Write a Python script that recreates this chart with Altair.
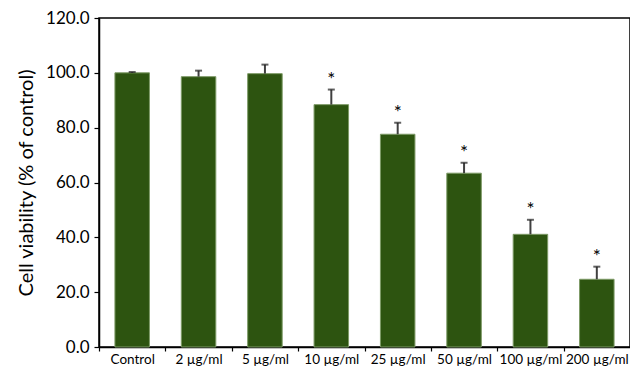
import altair as alt
import pandas as pd

categories = ["Control", "2 µg/ml", "5 µg/ml", "10 µg/ml", "25 µg/ml",
              "50 µg/ml", "100 µg/ml", "200 µg/ml"]
means = [100.0, 98.6, 99.7, 88.4, 77.6, 63.4, 41.1, 24.7]
errors = [0.3, 2.2, 3.3, 5.5, 4.2, 3.8, 5.3, 4.6]
marks = ["", "", "", "*", "*", "*", "*", "*"]

df = pd.DataFrame({"cat": categories, "mean": means, "err": errors, "sig": marks})
df["top"] = df["mean"] + df["err"]

FONT = "Lato"
W = 531
STEP = W / 8.0

x = alt.X("cat:N", sort=categories, title=None,
          scale=alt.Scale(paddingInner=0.48, paddingOuter=0.24),
          axis=alt.Axis(labelAngle=0, labelFont=FONT, labelFontSize=13.5, labelColor="#000",
                        tickOffset=-STEP / 2, labelOffset=STEP / 2, tickSize=4, tickColor="#000",
                        domainColor="#000", domainWidth=1.5, tickWidth=1.2, labelPadding=1))
y = alt.Y("mean:Q", title="Cell viability (% of control)",
          scale=alt.Scale(domain=[0, 120], nice=False),
          axis=alt.Axis(values=[0, 20, 40, 60, 80, 100, 120], format=".1f",
                        labelFont=FONT, labelFontSize=17, labelColor="#000",
                        titleFont=FONT, titleFontSize=20, titleFontWeight="normal",
                        titleColor="#000", titlePadding=9, tickSize=5, tickColor="#000",
                        domainColor="#000", domainWidth=1.5, tickWidth=1.2,
                        grid=False, labelPadding=5))

base = alt.Chart(df)

bars = base.mark_bar(color="#2d5410", stroke="#7d9a66", strokeWidth=1).encode(x=x, y=y)

err = base.mark_rule(color="#404040", strokeWidth=2).encode(
    x=alt.X("cat:N", sort=categories), y="mean:Q", y2="top:Q")

caps = base.mark_tick(color="#202020", thickness=2, size=7, orient="horizontal").encode(
    x=alt.X("cat:N", sort=categories), y="top:Q")

stars = base.mark_text(baseline="bottom", dy=0, font=FONT, fontSize=19, color="#000").encode(
    x=alt.X("cat:N", sort=categories), y="top:Q", text="sig:N")

chart = alt.layer(bars, err, caps, stars).properties(
    width=W, height=329,
    autosize=alt.AutoSizeParams(type="none"),
    padding={"left": 91, "top": 10, "right": 0, "bottom": 20},
).configure_view(stroke="#000", strokeWidth=1.5)

chart.save("out.html", embed_options={"renderer": "svg", "actions": False})
